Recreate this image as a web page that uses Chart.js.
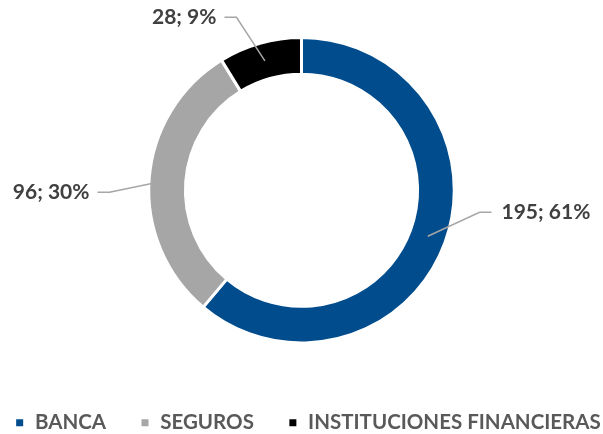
<!DOCTYPE html>
<html>
<head>
<meta charset="utf-8">
<script src="https://cdn.jsdelivr.net/npm/chart.js@4.4.1/dist/chart.umd.min.js"></script>
<style>
  html, body { margin: 0; padding: 0; background: #fff; }
  #wrap { width: 603px; height: 434px; }
</style>
</head>
<body>
<div id="wrap"><canvas id="myChart" width="603" height="434"></canvas></div>
<script>
"use strict";

// Data
const categories = ["BANCA", "SEGUROS", "INSTITUCIONES FINANCIERAS"];
const values = [195, 96, 28];
const colors = ["#004C8C", "#A6A6A6", "#000000"];

// Where each outside label sits (elbow of the leader line, relative to the centre)
const labelElbows = [
  { dx: 178, dy: 22, side: "right" },
  { dx: -192, dy: 2, side: "left" },
  { dx: -65, dy: -173, side: "left" },
];

const FONT = "Lato, 'Liberation Sans', sans-serif";

// Draws the "value; percent" labels with their leader lines
const outsideLabels = {
  id: "outsideLabels",
  afterDatasetsDraw(chart) {
    const ctx = chart.ctx;
    const meta = chart.getDatasetMeta(0);
    const total = values.reduce((a, b) => a + b, 0);

    meta.data.forEach(function (arc, i) {
      const mid = (arc.startAngle + arc.endAngle) / 2;
      const r = (arc.innerRadius + arc.outerRadius) / 2;
      const px = arc.x + Math.cos(mid) * r;
      const py = arc.y + Math.sin(mid) * r;
      const e = labelElbows[i];
      const ex = arc.x + e.dx;
      const ey = arc.y + e.dy;
      const sx = e.side === "right" ? ex + 12 : ex - 12;

      ctx.save();
      ctx.strokeStyle = "#A6A6A6";
      ctx.lineWidth = 1.5;
      ctx.beginPath();
      ctx.moveTo(px, py);
      ctx.lineTo(ex, ey);
      ctx.lineTo(sx, ey);
      ctx.stroke();

      const text = values[i] + "; " + Math.round((values[i] / total) * 100) + "%";
      ctx.font = "bold 21px " + FONT;
      ctx.fillStyle = "#404040";
      ctx.textBaseline = "middle";
      ctx.textAlign = e.side === "right" ? "left" : "right";
      ctx.fillText(text, e.side === "right" ? sx + 10 : sx - 8, ey);
      ctx.restore();
    });
  },
};

const ctx = document.getElementById("myChart");

new Chart(ctx, {
  type: "doughnut",
  data: {
    labels: categories,
    datasets: [
      {
        data: values,
        backgroundColor: colors,
        borderColor: "#ffffff",
        borderWidth: 3,
        hoverOffset: 0,
      },
    ],
  },
  options: {
    responsive: false,
    animation: false,
    cutout: "76%",
    layout: {
      padding: { top: 36, bottom: -9, left: -30.75, right: -31.75 },
    },
    plugins: {
      tooltip: { enabled: false },
      legend: {
        position: "bottom",
        align: "end",
        title: {
          display: true,
          text: " ",
          font: { size: 10 },
          padding: { top: 0, bottom: 22 },
        },
        labels: {
          boxWidth: 10,
          boxHeight: 10,
          padding: 34,
          color: "#595959",
          font: { family: FONT, size: 20.5, weight: "bold" },
        },
      },
    },
  },
  plugins: [outsideLabels],
});
</script>
</body>
</html>
